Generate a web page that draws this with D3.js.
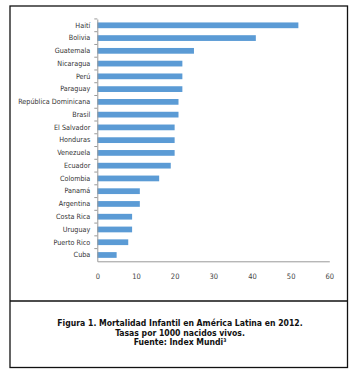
<!DOCTYPE html>
<html>
<head>
    <meta charset="utf-8" />
    <title>Mortalidad Infantil en América Latina 2012</title>
    <style>
        body { margin: 0; background: #fff; }
        text { font-family: "DejaVu Sans Condensed", "Liberation Sans Narrow", sans-serif; font-stretch: condensed; }
    </style>
    <script type="text/javascript" src="https://cdn.jsdelivr.net/npm/d3@7/dist/d3.min.js"></script>
</head>
<body>
    <div id="svg"></div>

    <script type="text/javascript">
        var paises = ['Haití', 'Bolivia', 'Guatemala', 'Nicaragua', 'Perú', 'Paraguay',
            'República Dominicana', 'Brasil', 'El Salvador', 'Honduras', 'Venezuela',
            'Ecuador', 'Colombia', 'Panamá', 'Argentina', 'Costa Rica', 'Uruguay',
            'Puerto Rico', 'Cuba'];
        var tasas = [52, 41, 25, 22, 22, 22, 21, 21, 20, 20, 20, 19, 16, 11, 11, 9, 9, 8, 5];
        var xTicks = [0, 10, 20, 30, 40, 50, 60];
        var caption = ['Figura 1. Mortalidad Infantil en América Latina en 2012.',
            'Tasas por 1000 nacidos vivos.',
            'Fuente: Index Mundi'];

        var width = 359,
            height = 380;

        var svg = d3.select('#svg')
            .append('svg')
            .attr('width', width)
            .attr('height', height);

        // marco
        svg.append('rect')
            .attr('x', 10).attr('y', 6)
            .attr('width', 337.5).attr('height', 361.5)
            .attr('fill', 'none')
            .attr('stroke', '#111')
            .attr('stroke-width', 1.3);
        svg.append('line')
            .attr('x1', 10).attr('x2', 347.5)
            .attr('y1', 301).attr('y2', 301)
            .attr('stroke', '#111')
            .attr('stroke-width', 1.3);

        var xScale = d3.scaleLinear()
            .domain([0, 60])
            .range([97.3, 329.3]);

        var yScale = d3.scaleBand()
            .domain(paises)
            .range([19, 261.3])
            .paddingInner(0.55)
            .paddingOuter(0.27);

        svg.selectAll('.bar')
            .data(paises)
            .enter()
            .append('rect')
            .attr('class', 'bar')
            .attr('x', xScale(0))
            .attr('y', d => yScale(d))
            .attr('width', (d, i) => xScale(tasas[i]) - xScale(0))
            .attr('height', yScale.bandwidth())
            .attr('fill', '#5b9bd5');

        // eje x
        var gX = svg.append('g')
            .attr('transform', 'translate(0,261.3)')
            .call(d3.axisBottom(xScale).tickValues(xTicks).tickSize(0).tickPadding(12));
        gX.select('.domain').attr('stroke', '#999');
        gX.selectAll('text')
            .attr('fill', '#444')
            .style('font-size', '7.5px');

        // eje y
        var gY = svg.append('g')
            .attr('transform', 'translate(97.3,0)')
            .call(d3.axisLeft(yScale).tickSize(0).tickPadding(7));
        gY.select('.domain').attr('stroke', '#999');
        gY.selectAll('text')
            .attr('fill', '#333')
            .style('font-size', '7.2px');

        var step = yScale.step();
        gY.selectAll('.sep')
            .data(paises)
            .enter()
            .append('line')
            .attr('class', 'sep')
            .attr('x1', -3).attr('x2', 0)
            .attr('y1', d => yScale(d) - step * 0.275)
            .attr('y2', d => yScale(d) - step * 0.275)
            .attr('stroke', '#999');

        // leyenda de la figura
        var cap = svg.append('text')
            .attr('text-anchor', 'middle')
            .style('font-size', '8.6px')
            .style('font-weight', 'bold')
            .attr('fill', '#111');
        caption.forEach(function (t, i) {
            var ts = cap.append('tspan')
                .attr('x', 180)
                .attr('y', 326 + i * 9.6)
                .text(t);
            if (i === 2) {
                ts.append('tspan')
                    .attr('dy', -3)
                    .style('font-size', '5px')
                    .text('3');
            }
        });
    </script>
</body>
</html>
